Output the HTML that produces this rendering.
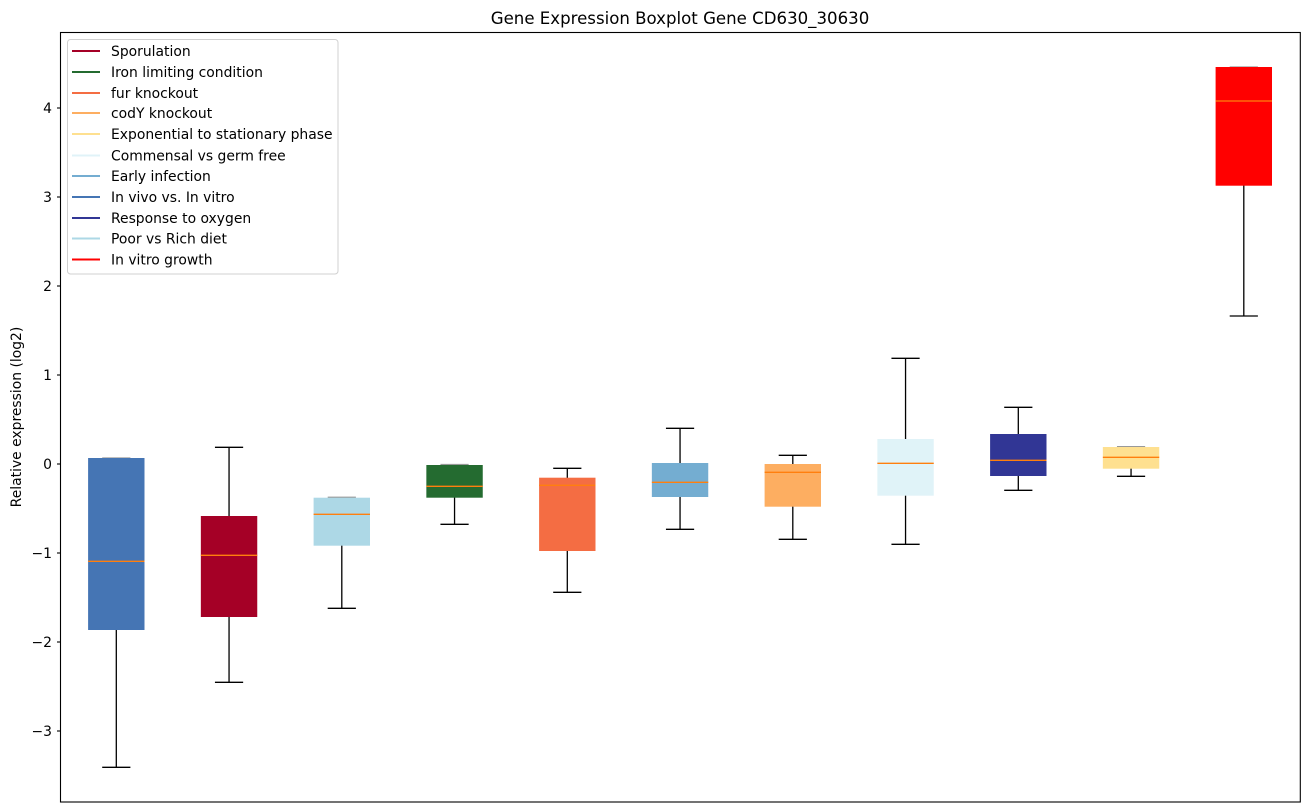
<!DOCTYPE html>
<html><head><meta charset="utf-8"><style>
html,body{margin:0;padding:0;background:#fff;}
svg{display:block;font-family:"DejaVu Sans","Liberation Sans",sans-serif;}
</style></head><body>
<svg width="1309" height="812" viewBox="0 0 1309 812" xmlns="http://www.w3.org/2000/svg">
<rect width="1309" height="812" fill="#fff"/>
<text x="680" y="24" font-size="16.6" text-anchor="middle" fill="#000">Gene Expression Boxplot Gene CD630_30630</text>
<text transform="translate(21,417) rotate(-90)" font-size="13.9" text-anchor="middle" fill="#000">Relative expression (log2)</text>
<g font-size="13.9" text-anchor="end" fill="#000">
<text x="52" y="113">4</text>
<text x="52" y="202">3</text>
<text x="52" y="291">2</text>
<text x="52" y="380">1</text>
<text x="52" y="469">0</text>
<text x="52" y="558">−1</text>
<text x="52" y="647">−2</text>
<text x="52" y="736">−3</text>
</g>
<g stroke="#000" stroke-width="1.1">
<line x1="57" y1="108" x2="60.5" y2="108"/>
<line x1="57" y1="197" x2="60.5" y2="197"/>
<line x1="57" y1="286" x2="60.5" y2="286"/>
<line x1="57" y1="375" x2="60.5" y2="375"/>
<line x1="57" y1="464" x2="60.5" y2="464"/>
<line x1="57" y1="553" x2="60.5" y2="553"/>
<line x1="57" y1="642" x2="60.5" y2="642"/>
<line x1="57" y1="731" x2="60.5" y2="731"/>
</g>
<g id="boxes" stroke-width="1.3">
<g><line x1="116.3" y1="458" x2="116.3" y2="767.3" stroke="#000"/><line x1="102.2" y1="767.3" x2="130.4" y2="767.3" stroke="#000"/><line x1="102.2" y1="458" x2="130.4" y2="458" stroke="#999"/>
<rect x="88.1" y="458" width="56.4" height="172" fill="#4575b4"/><line x1="88.1" y1="561.3" x2="144.5" y2="561.3" stroke="#ff7f0e"/></g>
<g><line x1="229.05" y1="447.3" x2="229.05" y2="682.3" stroke="#000"/><line x1="214.95" y1="447.3" x2="243.15" y2="447.3" stroke="#000"/><line x1="214.95" y1="682.3" x2="243.15" y2="682.3" stroke="#000"/>
<rect x="200.85" y="516" width="56.4" height="101" fill="#a50026"/><line x1="200.85" y1="555.3" x2="257.25" y2="555.3" stroke="#ff7f0e"/></g>
<g><line x1="341.8" y1="497.3" x2="341.8" y2="608.3" stroke="#000"/><line x1="327.7" y1="608.3" x2="355.9" y2="608.3" stroke="#000"/><line x1="327.7" y1="497.3" x2="355.9" y2="497.3" stroke="#999"/>
<rect x="313.6" y="497.7" width="56.4" height="48" fill="#add8e6"/><line x1="313.6" y1="514.3" x2="370" y2="514.3" stroke="#ff7f0e"/></g>
<g><line x1="454.55" y1="464.5" x2="454.55" y2="524.3" stroke="#000"/><line x1="440.45" y1="524.3" x2="468.65" y2="524.3" stroke="#000"/><line x1="440.45" y1="464.5" x2="468.65" y2="464.5" stroke="#999"/>
<rect x="426.35" y="465" width="56.4" height="32.7" fill="#246b30"/><line x1="426.35" y1="486.3" x2="482.75" y2="486.3" stroke="#ff7f0e"/></g>
<g><line x1="567.3" y1="468.3" x2="567.3" y2="592.3" stroke="#000"/><line x1="553.2" y1="468.3" x2="581.4" y2="468.3" stroke="#000"/><line x1="553.2" y1="592.3" x2="581.4" y2="592.3" stroke="#000"/>
<rect x="539.1" y="477.7" width="56.4" height="73.3" fill="#f46d43"/><line x1="539.1" y1="485.3" x2="595.5" y2="485.3" stroke="#ff7f0e"/></g>
<g><line x1="680.05" y1="428.3" x2="680.05" y2="529.3" stroke="#000"/><line x1="665.95" y1="428.3" x2="694.15" y2="428.3" stroke="#000"/><line x1="665.95" y1="529.3" x2="694.15" y2="529.3" stroke="#000"/>
<rect x="651.85" y="463" width="56.4" height="34" fill="#74add1"/><line x1="651.85" y1="482.3" x2="708.25" y2="482.3" stroke="#ff7f0e"/></g>
<g><line x1="792.8" y1="455.3" x2="792.8" y2="539.3" stroke="#000"/><line x1="778.7" y1="455.3" x2="806.9" y2="455.3" stroke="#000"/><line x1="778.7" y1="539.3" x2="806.9" y2="539.3" stroke="#000"/>
<rect x="764.6" y="464" width="56.4" height="42.7" fill="#fdae61"/><line x1="764.6" y1="472.3" x2="821" y2="472.3" stroke="#ff7f0e"/></g>
<g><line x1="905.55" y1="358.3" x2="905.55" y2="544.3" stroke="#000"/><line x1="891.45" y1="358.3" x2="919.65" y2="358.3" stroke="#000"/><line x1="891.45" y1="544.3" x2="919.65" y2="544.3" stroke="#000"/>
<rect x="877.35" y="439" width="56.4" height="56.7" fill="#e0f3f8"/><line x1="877.35" y1="463.3" x2="933.75" y2="463.3" stroke="#ff7f0e"/></g>
<g><line x1="1018.3" y1="407.3" x2="1018.3" y2="490.3" stroke="#000"/><line x1="1004.2" y1="407.3" x2="1032.4" y2="407.3" stroke="#000"/><line x1="1004.2" y1="490.3" x2="1032.4" y2="490.3" stroke="#000"/>
<rect x="990.1" y="434" width="56.4" height="42" fill="#313695"/><line x1="990.1" y1="460.3" x2="1046.5" y2="460.3" stroke="#ff7f0e"/></g>
<g><line x1="1131.05" y1="446.7" x2="1131.05" y2="476.3" stroke="#000"/><line x1="1116.95" y1="476.3" x2="1145.15" y2="476.3" stroke="#000"/><line x1="1116.95" y1="446.7" x2="1145.15" y2="446.7" stroke="#999"/>
<rect x="1102.85" y="447" width="56.4" height="21.7" fill="#fee090"/><line x1="1102.85" y1="457.3" x2="1159.25" y2="457.3" stroke="#ff7f0e"/></g>
<g><line x1="1243.8" y1="67" x2="1243.8" y2="316" stroke="#000"/><line x1="1229.7" y1="316" x2="1257.9" y2="316" stroke="#000"/><line x1="1229.7" y1="67" x2="1257.9" y2="67" stroke="#999"/>
<rect x="1215.6" y="67" width="56.4" height="118.7" fill="#ff0000"/><line x1="1215.6" y1="101" x2="1272" y2="101" stroke="#ff7f0e"/></g>
</g>
<rect x="60.5" y="32.5" width="1239.8" height="769.5" fill="none" stroke="#000" stroke-width="1.1"/>
<rect x="67.5" y="39.5" width="270.5" height="234.5" rx="3" fill="#fff" fill-opacity="0.8" stroke="#d0d0d0" stroke-width="1"/>
<g stroke-width="2">
<line x1="72" y1="51" x2="100" y2="51" stroke="#a50026"/>
<line x1="72" y1="72" x2="100" y2="72" stroke="#246b30"/>
<line x1="72" y1="93" x2="100" y2="93" stroke="#f46d43"/>
<line x1="72" y1="113" x2="100" y2="113" stroke="#fdae61"/>
<line x1="72" y1="134" x2="100" y2="134" stroke="#fee090"/>
<line x1="72" y1="155.5" x2="100" y2="155.5" stroke="#e0f3f8"/>
<line x1="72" y1="176" x2="100" y2="176" stroke="#74add1"/>
<line x1="72" y1="197" x2="100" y2="197" stroke="#4575b4"/>
<line x1="72" y1="218" x2="100" y2="218" stroke="#313695"/>
<line x1="72" y1="238.5" x2="100" y2="238.5" stroke="#add8e6"/>
<line x1="72" y1="259.5" x2="100" y2="259.5" stroke="#ff0000"/>
</g>
<g font-size="13.9" fill="#000">
<text x="111" y="56">Sporulation</text>
<text x="111" y="77">Iron limiting condition</text>
<text x="111" y="98">fur knockout</text>
<text x="111" y="118">codY knockout</text>
<text x="111" y="139">Exponential to stationary phase</text>
<text x="111" y="160.5">Commensal vs germ free</text>
<text x="111" y="181">Early infection</text>
<text x="111" y="202">In vivo vs. In vitro</text>
<text x="111" y="223">Response to oxygen</text>
<text x="111" y="243.5">Poor vs Rich diet</text>
<text x="111" y="264.5">In vitro growth</text>
</g>
</svg>
</body></html>
